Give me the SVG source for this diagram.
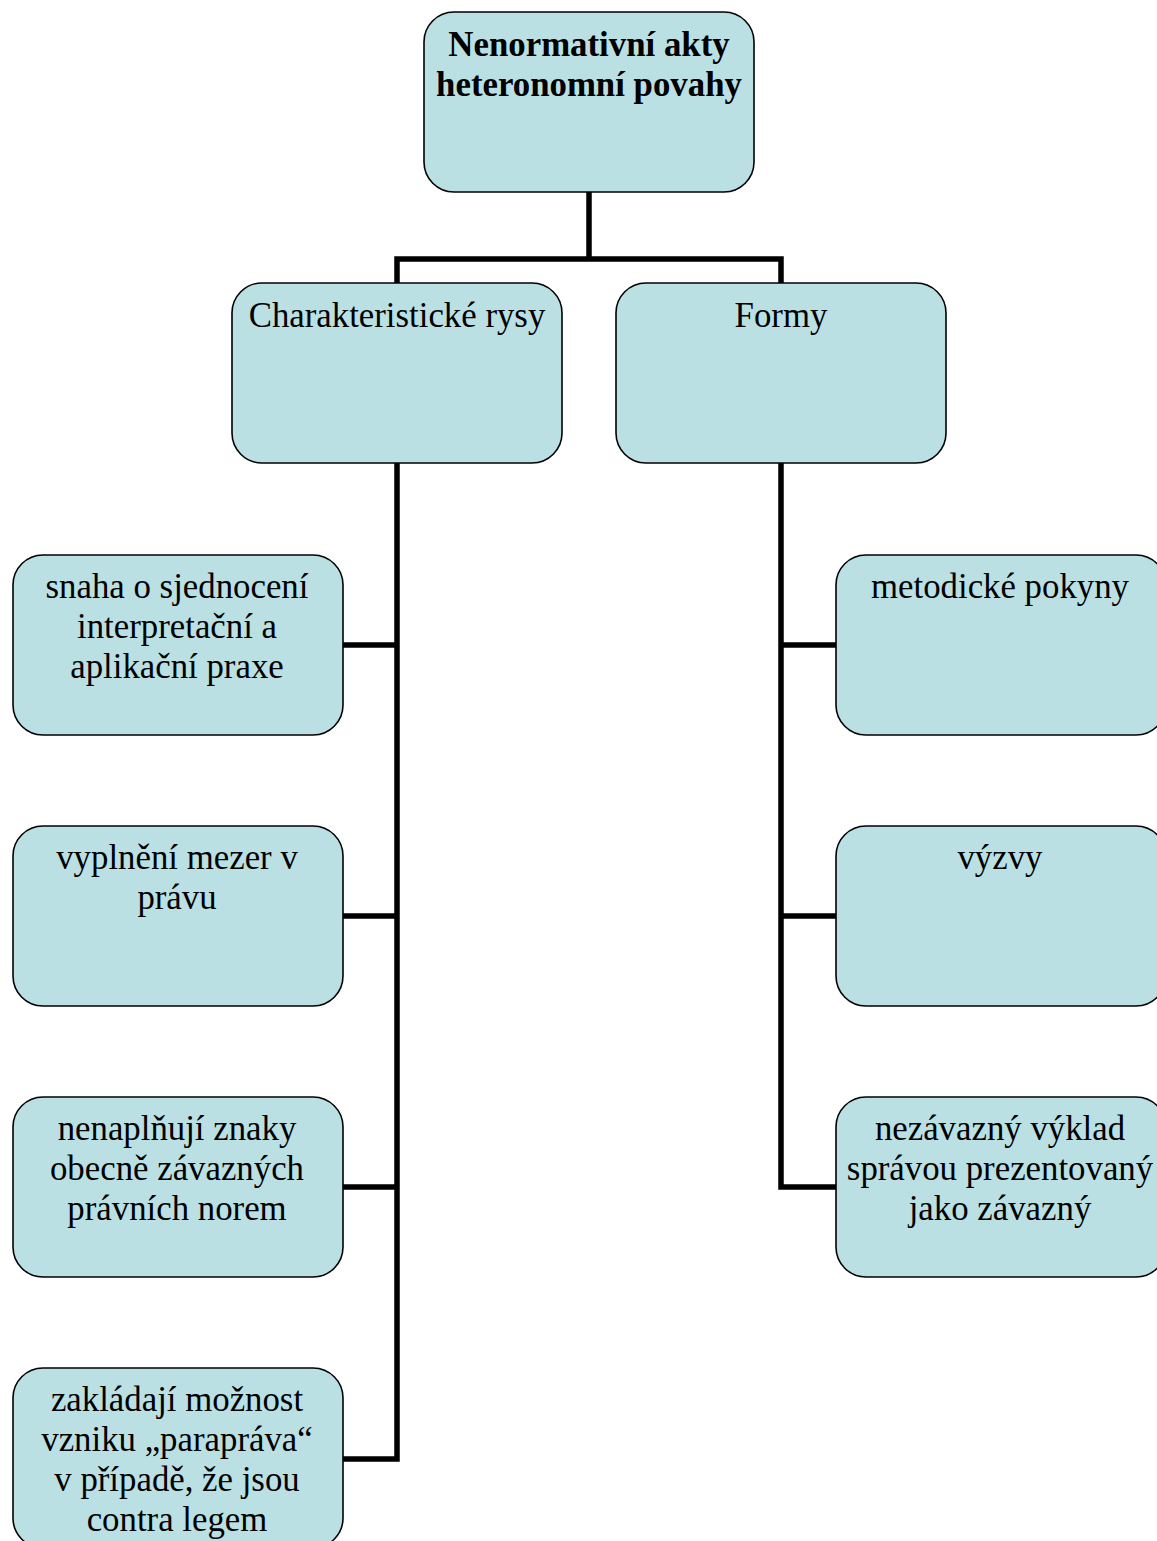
<svg xmlns="http://www.w3.org/2000/svg" width="1157" height="1541" viewBox="0 0 1157 1541">
<style>
.box{fill:#BAE0E3;stroke:#000;stroke-width:1.6}
.t{font-family:"Liberation Serif","Times New Roman",serif;font-size:34.8px;fill:#000;text-anchor:middle}
.b{font-weight:bold}
.c{fill:none;stroke:#000;stroke-width:5.5;stroke-linejoin:miter}
</style>
<rect width="1157" height="1541" fill="#fff"/>
<g id="connectors">
<path class="c" d="M589,192 V259 M397,283 V259 H781 V283"/>
<path class="c" d="M397,463 V1459 H342 M342,645 H397 M342,916 H397 M342,1187 H397"/>
<path class="c" d="M781,463 V1187 H836 M781,645 H836 M781,916 H836"/>
</g>
<g id="root">
<rect class="box" x="424" y="12" width="330" height="180" rx="30"/>
<text class="t b" x="589" y="56">Nenormativní akty</text>
<text class="t b" x="589" y="96">heteronomní povahy</text>
</g>
<g id="rysy">
<rect class="box" x="232" y="283" width="330" height="180" rx="30"/>
<text class="t" x="397" y="327">Charakteristické rysy</text>
</g>
<g id="formy">
<rect class="box" x="616" y="283" width="330" height="180" rx="30"/>
<text class="t" x="781" y="327">Formy</text>
</g>
<g id="l1">
<rect class="box" x="13" y="555" width="330" height="180" rx="30"/>
<text class="t" x="177" y="598">snaha o sjednocení</text>
<text class="t" x="177" y="638">interpretační a</text>
<text class="t" x="177" y="678">aplikační praxe</text>
</g>
<g id="l2">
<rect class="box" x="13" y="826" width="330" height="180" rx="30"/>
<text class="t" x="177" y="869">vyplnění mezer v</text>
<text class="t" x="177" y="909">právu</text>
</g>
<g id="l3">
<rect class="box" x="13" y="1097" width="330" height="180" rx="30"/>
<text class="t" x="177" y="1140">nenaplňují znaky</text>
<text class="t" x="177" y="1180">obecně závazných</text>
<text class="t" x="177" y="1220">právních norem</text>
</g>
<g id="l4">
<rect class="box" x="13" y="1368" width="330" height="180" rx="30"/>
<text class="t" x="177" y="1411">zakládají možnost</text>
<text class="t" x="177" y="1451">vzniku „parapráva“</text>
<text class="t" x="177" y="1491">v případě, že jsou</text>
<text class="t" x="177" y="1531">contra legem</text>
</g>
<g id="r1">
<rect class="box" x="836" y="555" width="330" height="180" rx="30"/>
<text class="t" x="1000" y="598">metodické pokyny</text>
</g>
<g id="r2">
<rect class="box" x="836" y="826" width="330" height="180" rx="30"/>
<text class="t" x="1000" y="869">výzvy</text>
</g>
<g id="r3">
<rect class="box" x="836" y="1097" width="330" height="180" rx="30"/>
<text class="t" x="1000" y="1140">nezávazný výklad</text>
<text class="t" x="1000" y="1180">správou prezentovaný</text>
<text class="t" x="1000" y="1220">jako závazný</text>
</g>
</svg>
